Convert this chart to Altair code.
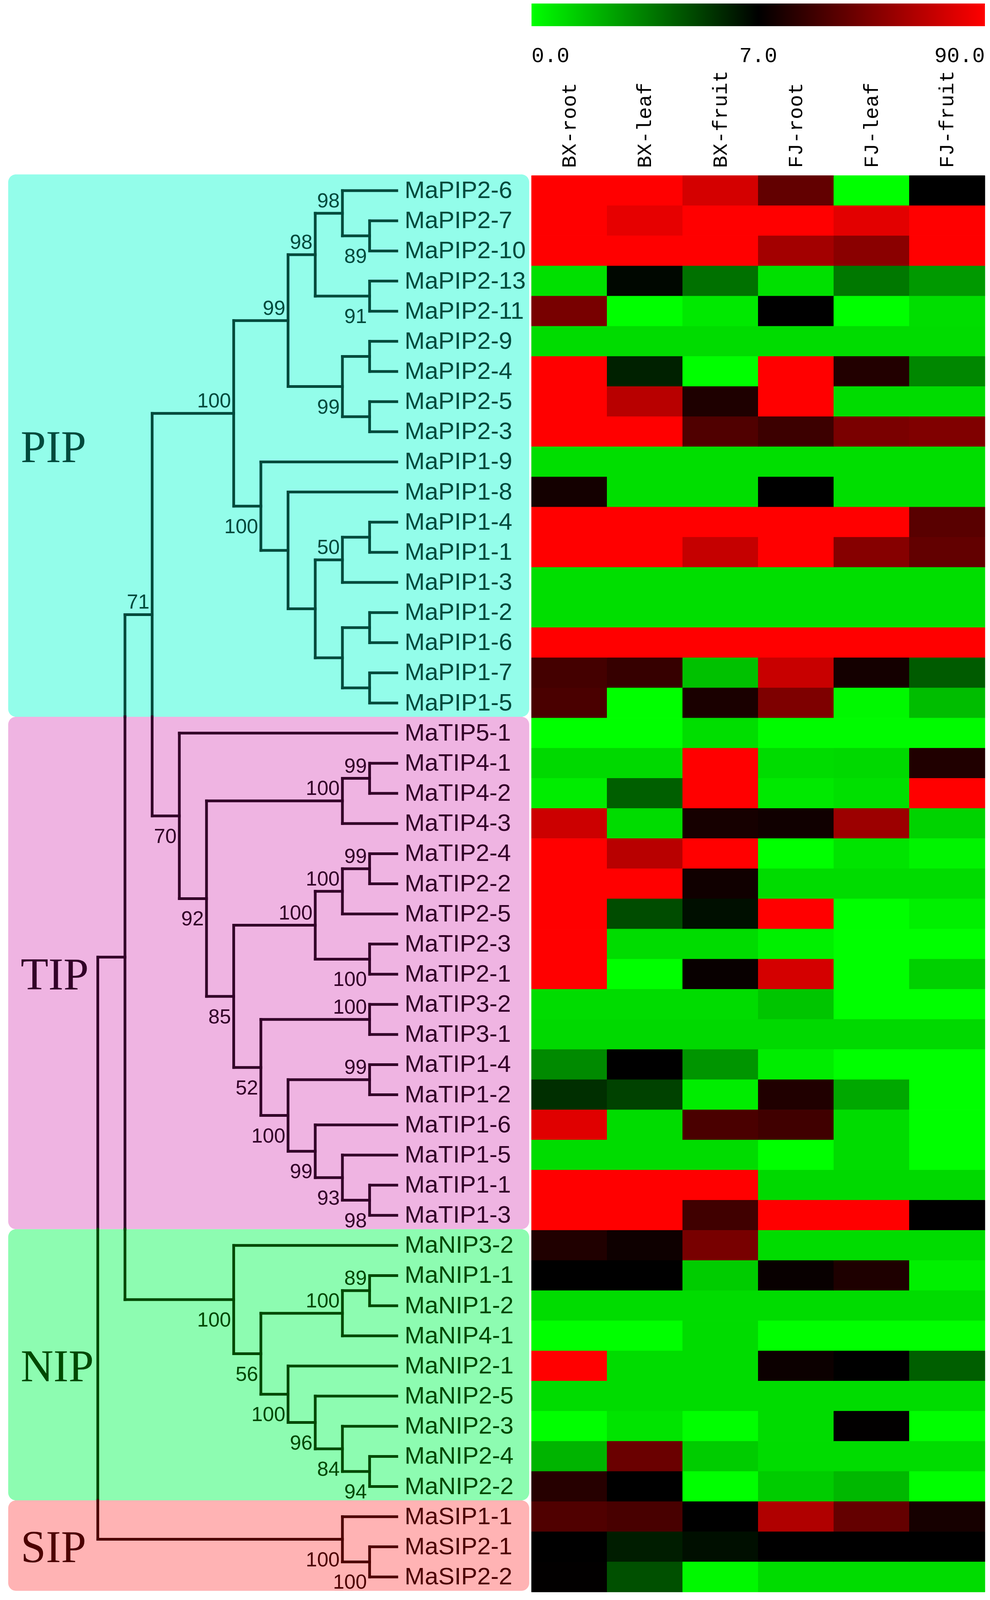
import altair as alt
import pandas as pd

# ---------------- data ----------------
genes = ["MaPIP2-6", "MaPIP2-7", "MaPIP2-10", "MaPIP2-13", "MaPIP2-11", "MaPIP2-9", "MaPIP2-4", "MaPIP2-5", "MaPIP2-3",
         "MaPIP1-9", "MaPIP1-8", "MaPIP1-4", "MaPIP1-1", "MaPIP1-3", "MaPIP1-2", "MaPIP1-6", "MaPIP1-7", "MaPIP1-5",
         "MaTIP5-1", "MaTIP4-1", "MaTIP4-2", "MaTIP4-3", "MaTIP2-4", "MaTIP2-2", "MaTIP2-5", "MaTIP2-3", "MaTIP2-1",
         "MaTIP3-2", "MaTIP3-1", "MaTIP1-4", "MaTIP1-2", "MaTIP1-6", "MaTIP1-5", "MaTIP1-1", "MaTIP1-3",
         "MaNIP3-2", "MaNIP1-1", "MaNIP1-2", "MaNIP4-1", "MaNIP2-1", "MaNIP2-5", "MaNIP2-3", "MaNIP2-4", "MaNIP2-2",
         "MaSIP1-1", "MaSIP2-1", "MaSIP2-2"]

tissues = ["BX-root", "BX-leaf", "BX-fruit", "FJ-root", "FJ-leaf", "FJ-fruit"]

bx_root = [95, 95, 95, 0.85, 46, 0.95, 95, 95, 95, 0.9, 13.5, 95, 95, 0.9, 0.9, 95, 29, 31,
           0, 1.05, 0.5, 73.4, 95, 95, 95, 95, 95, 0.95, 1.05, 3.2, 5.7, 80, 0.95, 95, 95,
           17.4, 7, 0.95, 0, 95, 0.95, 0, 2.05, 19.4,
           33, 7, 7.5]
bx_leaf = [95, 82, 95, 6.8, 0, 0.95, 6.1, 67, 95, 0.9, 0.9, 95, 95, 0.9, 0.9, 95, 24.6, 0,
           0, 1.05, 4.4, 0.95, 67, 95, 4.9, 0.95, 0, 0.95, 1.05, 7, 5.2, 0.95, 0.95, 95, 95,
           11.6, 7, 0.95, 0, 0.95, 0.95, 0.75, 41.5, 7,
           30.4, 6.2, 4.8]
bx_fruit = [76, 95, 95, 3.9, 0.6, 0.95, 0, 16.8, 33, 0.9, 0.9, 95, 71, 0.9, 0.9, 95, 1.7, 15.5,
            0.9, 95, 95, 14.2, 95, 12.2, 6.6, 0.95, 9.6, 0.95, 1.05, 2.9, 0.5, 31, 0.95, 95, 27.8,
            46, 1.4, 0.95, 0.95, 0.95, 0.95, 0, 1.4, 0,
            7, 6.6, 0.2]
fj_root = [39, 95, 60, 0.85, 7, 0.95, 95, 95, 26.5, 0.9, 7, 95, 95, 0.9, 0.9, 95, 72, 48,
           0.1, 0.95, 0.6, 12.2, 0, 0.95, 95, 0.4, 76, 1.6, 1.05, 0.5, 17.4, 27.8, 0, 1.05, 95,
           0.95, 9.6, 0.95, 0, 10.9, 0.95, 0.95, 0.95, 1.4,
           64.3, 7, 0.95]
fj_leaf = [0, 81, 52, 3.7, 0, 0.95, 18, 0.95, 46.7, 0.9, 0.9, 95, 50.6, 0.9, 0.9, 95, 13.5, 0.2,
           0.1, 1.05, 0.85, 57.8, 0.75, 0.95, 0, 0, 0, 0, 1.05, 0, 2.4, 0.95, 0.95, 1.05, 95,
           0.95, 16.8, 0.95, 0, 7, 0.95, 7.5, 0.95, 1.95,
           39.5, 7, 0.95]
fj_fruit = [7, 95, 95, 2.8, 0.9, 0.95, 3.3, 0.95, 48.7, 0.9, 0.9, 36, 38.9, 0.9, 0.9, 95, 4.5, 1.8,
            0.1, 17.4, 95, 1.2, 0.3, 0.95, 0.4, 0, 1.3, 0, 1.05, 0, 0, 0, 0, 1.05, 7,
            0.95, 0.4, 0.95, 0, 4.4, 0.95, 0, 0.95, 0,
            14.2, 7, 0.95]
columns = [bx_root, bx_leaf, bx_fruit, fj_root, fj_leaf, fj_fruit]

scale_stops = [0.0, 7.0, 90.0]
scale_labels = ["0.0", "7.0", "90.0"]

groups = ["PIP", "TIP", "NIP", "SIP"]


def clade(boot, place, *kids):
    return {"boot": boot, "place": place, "kids": kids}


PIP2 = clade("99", "a",
             clade("98", "a",
                   clade("98", "a", "MaPIP2-6", clade("89", "b", "MaPIP2-7", "MaPIP2-10")),
                   clade("91", "b", "MaPIP2-13", "MaPIP2-11")),
             clade("99", "b", clade("", "", "MaPIP2-9", "MaPIP2-4"), clade("", "", "MaPIP2-5", "MaPIP2-3")))
PIP1 = clade("100", "b", "MaPIP1-9",
             clade("", "", "MaPIP1-8",
                   clade("", "",
                         clade("50", "a", clade("", "", "MaPIP1-4", "MaPIP1-1"), "MaPIP1-3"),
                         clade("", "", clade("", "", "MaPIP1-2", "MaPIP1-6"), clade("", "", "MaPIP1-7", "MaPIP1-5")))))
PIP = clade("100", "a", PIP2, PIP1)
TIP4 = clade("100", "a", clade("99", "a", "MaTIP4-1", "MaTIP4-2"), "MaTIP4-3")
TIP2 = clade("100", "a", clade("100", "a", clade("99", "a", "MaTIP2-4", "MaTIP2-2"), "MaTIP2-5"),
             clade("100", "b", "MaTIP2-3", "MaTIP2-1"))
TIP3 = clade("100", "a", "MaTIP3-2", "MaTIP3-1")
TIP1 = clade("100", "b", clade("99", "a", "MaTIP1-4", "MaTIP1-2"),
             clade("99", "b", "MaTIP1-6", clade("93", "b", "MaTIP1-5", clade("98", "b", "MaTIP1-1", "MaTIP1-3"))))
TIP = clade("70", "b", "MaTIP5-1", clade("92", "b", TIP4, clade("85", "b", TIP2, clade("52", "b", TIP3, TIP1))))
NIP = clade("100", "b", "MaNIP3-2",
            clade("56", "b",
                  clade("100", "a", clade("89", "a", "MaNIP1-1", "MaNIP1-2"), "MaNIP4-1"),
                  clade("100", "b", "MaNIP2-1",
                        clade("96", "b", "MaNIP2-5",
                              clade("84", "b", "MaNIP2-3", clade("94", "b", "MaNIP2-4", "MaNIP2-2"))))))
SIP = clade("100", "b", "MaSIP1-1", clade("100", "b", "MaSIP2-1", "MaSIP2-2"))
tree = clade("", "", clade("", "", clade("71", "a", PIP, TIP), NIP), SIP)

# ---------------- layout / style ----------------
W, H = 2519, 4081
ORIGIN = 8
LEAF_END = 1016.0
STEP = 69.6
LABEL_X = LEAF_END + 20
HEAT_X0 = 1361.0
COL_W = 193.5
ROW0 = 449.5
ROW_H = 77.15
BOX_X0, BOX_X1 = 21, 1355
GROUP_LABEL_X = 53

bg_colors = ["#93fdea", "#efb4e2", "#8dfcb1", "#ffb3b4"]
ink_colors = ["#004a3c", "#320028", "#004800", "#4c0000"]


def row_units(px):
    return (px - ROW0) / ROW_H


xs = alt.Scale(domain=[ORIGIN, ORIGIN + W], nice=False, zero=False)
ys = alt.Scale(domain=[row_units(ORIGIN), row_units(ORIGIN + H)], reverse=True, nice=False, zero=False)

row_of = {g: i for i, g in enumerate(genes)}
gene_group = [g[2:5] for g in genes]
group_rows = {grp: (gene_group.index(grp), len(gene_group) - 1 - gene_group[::-1].index(grp)) for grp in groups}
box_bottom = {grp: group_rows[grp][1] + 0.96 for grp in groups}
cuts = [box_bottom[g] for g in groups[:-1]]


def region(y):
    for g in groups:
        if y <= box_bottom[g]:
            return g
    return groups[-1]


segs, boots = [], []


def walk(node):
    if isinstance(node, str):
        return 0, row_of[node] + 0.5
    res = [walk(k) for k in node["kids"]]
    h = max(r[0] for r in res) + 1
    ys_ = [r[1] for r in res]
    y = (ys_[0] + ys_[-1]) / 2
    x = LEAF_END - h * STEP
    pts = [ys_[0]] + [c for c in cuts if ys_[0] < c < ys_[-1]] + [ys_[-1]]
    for a, b in zip(pts[:-1], pts[1:]):
        segs.append(dict(x=x, x2=x, y=a, y2=b, grp=region((a + b) / 2)))
    for hc, yc in res:
        segs.append(dict(x=x, x2=LEAF_END - hc * STEP, y=yc, y2=yc, grp=region(yc)))
    if node["boot"]:
        boots.append(dict(x=x, y=y, t=node["boot"], place=node["place"], grp=region(y)))
    return h, y


walk(tree)

seg_df = pd.DataFrame(segs)
boot_df = pd.DataFrame(boots)
gene_df = pd.DataFrame(dict(gene=genes, y=[i + 0.5 for i in range(len(genes))], grp=gene_group, x=LABEL_X))
box_df = pd.DataFrame(dict(grp=groups, x=BOX_X0, x2=BOX_X1,
                           y=[group_rows[g][0] - 0.04 for g in groups],
                           y2=[box_bottom[g] for g in groups]))
glabel_df = pd.DataFrame(dict(grp=groups, x=GROUP_LABEL_X,
                              y=[(group_rows[g][0] + group_rows[g][1] + 1) / 2 + 0.05 for g in groups]))

heat_rows = []
for c, (tissue, vals) in enumerate(zip(tissues, columns)):
    for r, v in enumerate(vals):
        heat_rows.append(dict(gene=genes[r], tissue=tissue, value=v,
                              x=HEAT_X0 + c * COL_W, x2=HEAT_X0 + (c + 1) * COL_W, y=r, y2=r + 1))
heat_df = pd.DataFrame(heat_rows)

col_df = pd.DataFrame(dict(tissue=tissues, x=[HEAT_X0 + (c + 0.5) * COL_W for c in range(len(tissues))],
                           y=row_units(430)))

bar_df = pd.DataFrame([dict(x=HEAT_X0, x2=HEAT_X0 + 6 * COL_W, y=row_units(9), y2=row_units(67))])

grp_bg = alt.Scale(domain=groups, range=bg_colors)
grp_ink = alt.Scale(domain=groups, range=ink_colors)
heat_scale = alt.Scale(domain=scale_stops, range=["#00ff00", "#000000", "#ff0000"], clamp=True, interpolate="rgb")

boxes = alt.Chart(box_df).mark_rect(cornerRadius=20).encode(
    x=alt.X("x:Q", scale=xs, axis=None), x2="x2", y=alt.Y("y:Q", scale=ys, axis=None), y2="y2",
    color=alt.Color("grp:N", scale=grp_bg, legend=None))

lines = alt.Chart(seg_df).mark_rule(strokeWidth=7, strokeCap="square").encode(
    x=alt.X("x:Q", scale=xs, axis=None), x2="x2", y=alt.Y("y:Q", scale=ys, axis=None), y2="y2",
    color=alt.Color("grp:N", scale=grp_ink, legend=None))

gene_text = alt.Chart(gene_df).mark_text(font="Liberation Sans", fontSize=62, align="left", baseline="middle").encode(
    x=alt.X("x:Q", scale=xs, axis=None), y=alt.Y("y:Q", scale=ys, axis=None), text="gene:N",
    color=alt.Color("grp:N", scale=grp_ink, legend=None))

boot_above = alt.Chart(boot_df[boot_df.place == "a"]).mark_text(
    font="Liberation Sans", fontSize=52, align="right", baseline="alphabetic", dx=-7, dy=-15).encode(
    x=alt.X("x:Q", scale=xs, axis=None), y=alt.Y("y:Q", scale=ys, axis=None), text="t:N",
    color=alt.Color("grp:N", scale=grp_ink, legend=None))

boot_below = alt.Chart(boot_df[boot_df.place == "b"]).mark_text(
    font="Liberation Sans", fontSize=52, align="right", baseline="alphabetic", dx=-7, dy=69).encode(
    x=alt.X("x:Q", scale=xs, axis=None), y=alt.Y("y:Q", scale=ys, axis=None), text="t:N",
    color=alt.Color("grp:N", scale=grp_ink, legend=None))

group_text = alt.Chart(glabel_df).mark_text(font="Liberation Serif", fontSize=116, align="left", baseline="middle").encode(
    x=alt.X("x:Q", scale=xs, axis=None), y=alt.Y("y:Q", scale=ys, axis=None), text="grp:N",
    color=alt.Color("grp:N", scale=grp_ink, legend=None))

heat = alt.Chart(heat_df).mark_rect(strokeWidth=1).encode(
    x=alt.X("x:Q", scale=xs, axis=None), x2="x2", y=alt.Y("y:Q", scale=ys, axis=None), y2="y2",
    color=alt.Color("value:Q", scale=heat_scale, legend=None),
    stroke=alt.Stroke("value:Q", scale=heat_scale, legend=None))

col_text = alt.Chart(col_df).mark_text(font="Liberation Mono", fontSize=52, angle=270, align="left",
                                       baseline="middle", color="black").encode(
    x=alt.X("x:Q", scale=xs, axis=None), y=alt.Y("y:Q", scale=ys, axis=None), text="tissue:N")

bar = alt.Chart(bar_df).mark_rect(color=alt.Gradient(
    gradient="linear",
    stops=[alt.GradientStop(color="#00ff00", offset=0), alt.GradientStop(color="#000000", offset=0.5),
           alt.GradientStop(color="#ff0000", offset=1)],
    x1=0, x2=1, y1=0, y2=0)).encode(
    x=alt.X("x:Q", scale=xs, axis=None), x2="x2", y=alt.Y("y:Q", scale=ys, axis=None), y2="y2")

bar_text_layers = []
bar_len = 6 * COL_W
for lab, frac, al in zip(scale_labels, [0.0, 0.5, 1.0], ["left", "center", "right"]):
    d = pd.DataFrame([dict(t=lab, x=HEAT_X0 + frac * bar_len, y=row_units(143))])
    bar_text_layers.append(
        alt.Chart(d).mark_text(font="Liberation Mono", fontSize=54, align=al, baseline="middle", color="black").encode(
            x=alt.X("x:Q", scale=xs, axis=None), y=alt.Y("y:Q", scale=ys, axis=None), text="t:N"))

chart = alt.layer(boxes, lines, gene_text, boot_above, boot_below, group_text, heat, col_text, bar,
                  *bar_text_layers).resolve_scale(color="independent", stroke="independent").properties(
    width=W, height=H, autosize=alt.AutoSizeParams(type="none"), padding=0, background="white"
).configure_view(stroke=None)

chart.save("out.html", embed_options={"renderer": "svg", "actions": False})
